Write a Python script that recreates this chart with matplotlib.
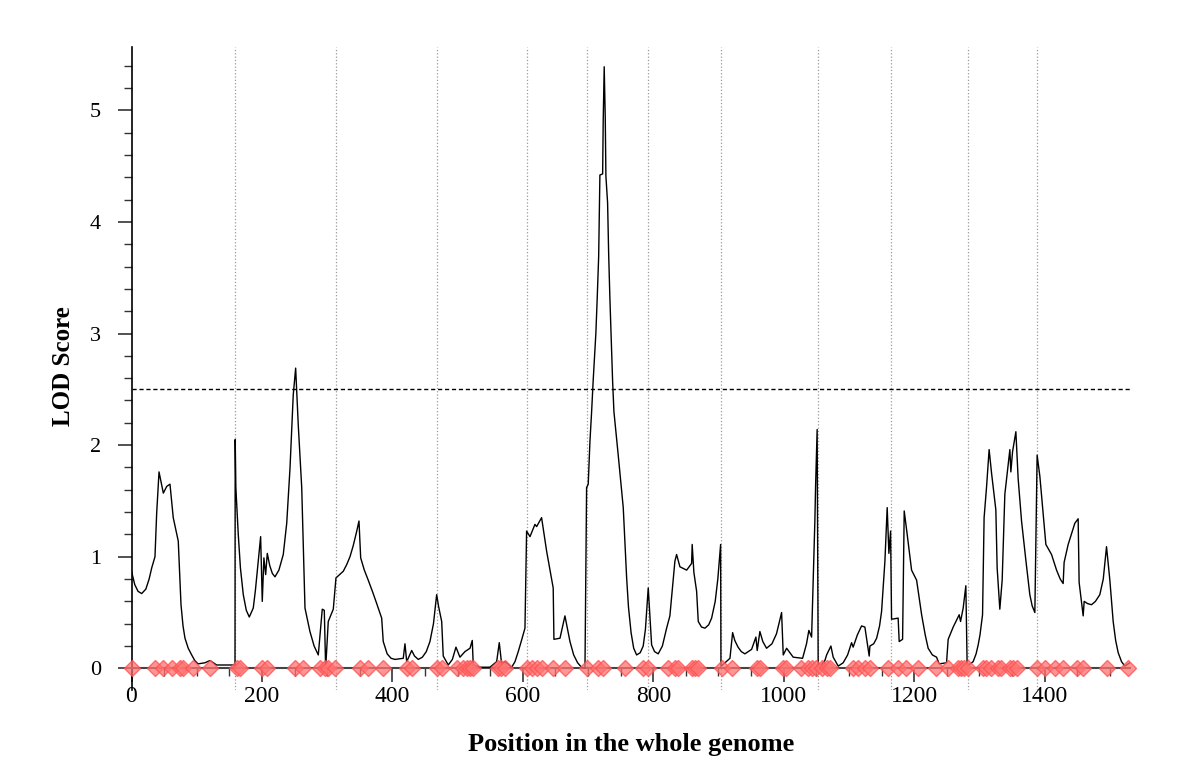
import matplotlib.pyplot as plt
from matplotlib.ticker import MultipleLocator

# LOD profile along the genome: (position, LOD score), one line per linkage group
profile = [
    (0, 0.87), (5, 0.75), (10, 0.69), (15.6, 0.67), (22, 0.71), (27, 0.8), (31, 0.90), (36, 1.0),
    (38.6, 1.39), (42.2, 1.76), (48.8, 1.57), (54, 1.63), (59, 1.65), (64, 1.35), (71.7, 1.14),
    (73.3, 0.92), (75.9, 0.57), (79, 0.38), (82, 0.27), (87, 0.18), (92.3, 0.12), (97, 0.07),
    (102, 0.04), (112.7, 0.05), (120.3, 0.07), (130.6, 0.03), (158.7, 0.03),

    (159, 2.05), (160, 1.62), (163.7, 1.2), (167, 0.9), (171.4, 0.66), (176, 0.52), (180.6, 0.46),
    (186.7, 0.54), (190, 0.7), (194.4, 0.96), (198, 1.18), (200.5, 0.6), (203, 0.99), (205.7, 0.84),
    (208.2, 1.03), (212, 0.92), (216, 0.85), (220, 0.82), (226, 0.88), (232.7, 1.02), (238, 1.3),
    (243, 1.79), (248, 2.45), (251.7, 2.69), (255.7, 2.18), (261, 1.62), (266, 0.54), (273.6, 0.33),
    (280, 0.2), (286.4, 0.12), (292.5, 0.53), (295.6, 0.52), (297.7, 0.0), (301.7, 0.42), (309.4, 0.53),

    (313.5, 0.81), (324.7, 0.87), (330, 0.93), (335, 1.0), (340, 1.1), (345, 1.22), (348.8, 1.32),
    (351.4, 0.99), (357, 0.88), (363, 0.79), (370, 0.68), (376, 0.58), (383.6, 0.45), (386, 0.24),
    (392, 0.13), (398, 0.09), (404, 0.08), (416.7, 0.09), (419.3, 0.22), (422, 0.06), (429.6, 0.16),
    (434, 0.11), (439.7, 0.08), (446, 0.1), (452, 0.15), (457.6, 0.24), (463, 0.4), (467.9, 0.66),

    (471, 0.55), (475.6, 0.42), (478, 0.11), (485.7, 0.03), (492, 0.08), (497.5, 0.19), (503.6, 0.10),
    (511.3, 0.15), (519, 0.18), (522.5, 0.25), (524, 0.03), (534.3, 0.01), (549.6, 0.01), (559.9, 0.06),
    (563.9, 0.23), (567.5, 0.04), (572.6, 0.06), (582.9, 0.01), (588, 0.06), (593, 0.15), (598, 0.25),
    (603.3, 0.36),

    (605.8, 1.23), (611, 1.18), (618.6, 1.29), (621.2, 1.27), (628.8, 1.35), (636.5, 1.05), (646.6, 0.72),
    (647.7, 0.26), (657, 0.27), (664.6, 0.47), (672.3, 0.24), (678, 0.12), (684, 0.05), (690, 0.01),
    (695.3, 0.0),

    (697.8, 1.62), (700.3, 1.65), (702.9, 2.03), (705.5, 2.30), (708, 2.59), (712, 3.0), (714.1, 3.32),
    (716.3, 3.69), (718.2, 4.42), (722.4, 4.43), (723.3, 4.92), (724.8, 5.39), (726.4, 4.93), (727.4, 4.41),
    (730, 4.17), (731.6, 3.72), (733.5, 3.32), (735.5, 2.97), (737.7, 2.57), (739.7, 2.30), (746.3, 1.91),
    (754, 1.44), (759.2, 0.81), (762, 0.55), (766, 0.32), (770, 0.18), (774.5, 0.12), (780, 0.14),
    (784.6, 0.2), (788, 0.35), (792.3, 0.72), (797.5, 0.21), (802, 0.15), (807.6, 0.13), (814, 0.2),
    (820.5, 0.36), (825.5, 0.47), (833.2, 0.96), (835.8, 1.02), (840.9, 0.91), (851.2, 0.88), (858.8, 0.94),
    (859.7, 1.11), (862.3, 0.86), (866.5, 0.69), (869, 0.42), (874, 0.37), (879.3, 0.36), (885, 0.39),
    (889.5, 0.45), (895, 0.6), (899, 0.8), (903.3, 1.11),

    (903.8, 0.02), (910, 0.05), (917.6, 0.09), (921.7, 0.32), (925, 0.25), (930, 0.19), (935, 0.15),
    (940.5, 0.13), (950.8, 0.17), (955, 0.24), (957.4, 0.28), (959.4, 0.16), (963.5, 0.33), (968, 0.24),
    (973.7, 0.18), (982, 0.22), (989, 0.31), (996.8, 0.50), (999.3, 0.12), (1004.5, 0.18), (1014.6, 0.10),
    (1029, 0.09), (1035, 0.22), (1038.6, 0.34), (1042.8, 0.28), (1047.8, 1.32), (1048.9, 1.63), (1051.3, 2.14),

    (1052.9, 0.0), (1063.2, 0.07), (1065.8, 0.12), (1072.4, 0.2), (1075.9, 0.1), (1083.6, 0.02),
    (1091.2, 0.05), (1098, 0.12), (1104.1, 0.23), (1106.5, 0.19), (1113, 0.3), (1119.4, 0.38),
    (1124.5, 0.37), (1131.1, 0.11), (1132.2, 0.2), (1138, 0.22), (1142.5, 0.27), (1147, 0.38),
    (1150.1, 0.51), (1155.2, 0.96), (1158.7, 1.44), (1161.3, 1.03), (1163.9, 1.23),

    (1165.4, 0.44), (1175.5, 0.45), (1177.1, 0.24), (1182.3, 0.26), (1184.8, 1.41), (1188.5, 1.24),
    (1196.1, 0.88), (1203.8, 0.79), (1208, 0.62), (1211.5, 0.48), (1217, 0.3), (1221.5, 0.18),
    (1228, 0.12), (1234.4, 0.1), (1238.4, 0.04), (1249.7, 0.05), (1252.2, 0.26), (1259.9, 0.37),
    (1269.1, 0.48), (1271.2, 0.42), (1275.2, 0.54), (1279.3, 0.74),

    (1281.3, 0.02), (1290.5, 0.06), (1295, 0.13), (1298.2, 0.21), (1301, 0.3), (1304.9, 0.48),
    (1307.3, 1.35), (1311, 1.62), (1315, 1.96), (1318.7, 1.75), (1325.3, 1.42), (1327.3, 0.9),
    (1331.4, 0.53), (1335, 0.79), (1339.1, 1.56), (1346.8, 1.96), (1348.3, 1.76), (1350.9, 1.94),
    (1356, 2.12), (1359.5, 1.7), (1364.7, 1.32), (1371.3, 0.97), (1377.4, 0.66), (1381, 0.56),
    (1385.1, 0.50),

    (1388.6, 1.91), (1392.8, 1.72), (1402, 1.11), (1410.7, 1.02), (1418.4, 0.88), (1424, 0.8),
    (1428.5, 0.76), (1430, 0.95), (1436.2, 1.11), (1446.4, 1.30), (1451.5, 1.34), (1453, 0.77),
    (1459.2, 0.47), (1460.7, 0.60), (1466, 0.58), (1472, 0.57), (1478, 0.6), (1484.7, 0.66),
    (1490, 0.8), (1495, 1.09), (1500.1, 0.79), (1505.2, 0.42), (1509, 0.25), (1512.9, 0.14),
    (1518, 0.06), (1523.1, 0.02), (1530.7, 0.05),
]
pos = [p[0] for p in profile]
lod = [p[1] for p in profile]

# linkage group boundaries (dotted lines)
boundaries = [158.7, 313.5, 468, 606, 698, 792, 904, 1052, 1164, 1282, 1388]

# marker positions
markers = [0, 36, 49, 62, 74, 79, 95, 121, 161, 166, 200, 207, 251, 263, 289, 297, 302, 312,
           350, 363, 386, 422, 430, 468, 476, 499, 509, 514, 519, 524, 562, 567, 573, 606,
           614, 621, 629, 647, 665, 698, 716, 723, 757, 785, 792, 823, 833, 838, 859, 864,
           869, 905, 920, 959, 964, 999, 1004, 1027, 1038, 1043, 1050, 1058, 1066, 1071,
           1107, 1114, 1125, 1132, 1160, 1176, 1188, 1206, 1234, 1252, 1267, 1272, 1277,
           1282, 1305, 1310, 1318, 1328, 1333, 1347, 1352, 1357, 1388, 1400, 1416, 1429,
           1449, 1459, 1495, 1528]

threshold = 2.5

plt.rcParams['font.family'] = ['Liberation Serif', 'DejaVu Serif']

fig = plt.figure(figsize=(11.83, 7.58), dpi=100)
ax = fig.add_axes([131.5 / 1183, 1 - 690 / 758, (1130 - 131.5) / 1183, (690 - 47) / 758])

for b in boundaries:
    ax.axvline(b, color='#9a9a9a', linestyle=':', linewidth=0.9, zorder=1)

ax.axhline(threshold, color='black', linestyle=(0, (3, 2)), linewidth=1.0, zorder=2)
ax.plot(pos, lod, color='black', linewidth=1.0, zorder=3)
ax.plot(markers, [0] * len(markers), linestyle='none', marker='D', markersize=8.5,
        markerfacecolor=(1, 0.45, 0.45), markeredgecolor=(1, 0.3, 0.3), alpha=0.75, zorder=4,
        clip_on=False)

ax.set_xlim(0, 1531)
ax.set_ylim(-0.194, 5.567)

ax.spines['top'].set_visible(False)
ax.spines['right'].set_visible(False)
ax.spines['bottom'].set_position(('data', 0))
ax.spines['bottom'].set_color('#444444')
ax.spines['bottom'].set_linewidth(1.5)
ax.spines['left'].set_linewidth(1.2)

ax.xaxis.set_major_locator(MultipleLocator(200))
ax.xaxis.set_minor_locator(MultipleLocator(50))
ax.yaxis.set_major_locator(MultipleLocator(1))
ax.yaxis.set_minor_locator(MultipleLocator(0.2))

ax.tick_params(axis='x', which='major', length=10, width=1.2, color='#333333', labelsize=17, pad=3)
ax.tick_params(axis='x', which='minor', length=6, width=1.0, color='#333333')
ax.tick_params(axis='y', which='major', length=10, width=1.2, color='#333333', labelsize=16, pad=12)
ax.tick_params(axis='y', which='minor', length=6, width=1.0, color='#333333')

fig.text(63 / 1183, 1 - 366 / 758, 'LOD Score', rotation=90, ha='center', va='center',
         fontsize=18, fontweight='bold')
fig.text(631 / 1183, 1 - 745 / 758, 'Position in the whole genome', ha='center', va='center',
         fontsize=19, fontweight='bold')

plt.savefig('out.png', dpi=100)
